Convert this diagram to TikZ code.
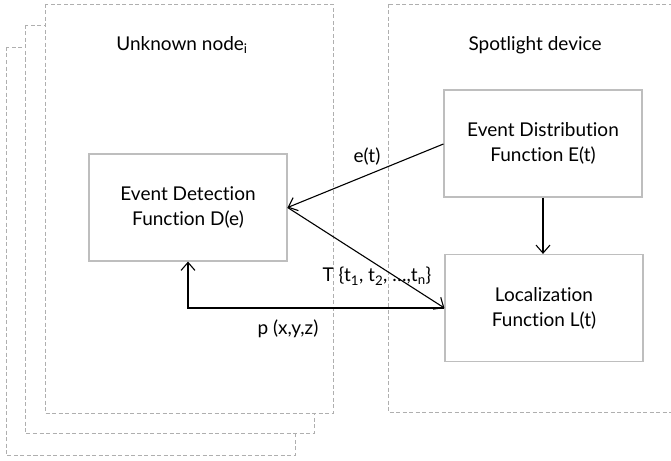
\documentclass[tikz,border=0pt]{standalone}
\usepackage{fontspec}
\setmainfont{Lato}[Ligatures={NoCommon}]
\usetikzlibrary{arrows.meta}
\definecolor{boxgray}{RGB}{190,190,190}
\definecolor{framegray}{RGB}{175,175,175}
\tikzset{
  frame/.style={draw=framegray, dashed, dash pattern=on 4pt off 2.5pt, line width=0.9pt, fill=white},
  func/.style={draw=boxgray, line width=1.2pt, fill=white, minimum width=198pt, minimum height=107pt, align=center, font=\fontsize{19}{25}\selectfont, inner sep=0pt},
  conn/.style={line width=1.1pt, -{Straight Barb[length=8pt,width=14pt,line width=1.1pt]}},
  lbl/.style={font=\fontsize{19}{22}\selectfont, inner sep=0pt},
}
\begin{document}
\begin{tikzpicture}[x=1pt,y=-1pt]
\useasboundingbox (0,0) rectangle (671,460);
% stacked frames
\draw[frame] (6,47) rectangle (295,455);
\draw[frame] (25,25) rectangle (314,433);
\draw[frame] (45,4) rectangle (333,413);
\draw[frame] (388,4) rectangle (671.5,412);
\node[lbl] (ttlU) at (182,45) {Unknown node\textsubscript{i}};
\node[lbl] (ttlS) at (535,45) {Spotlight device};
% function boxes
\node[func] (D) at (188,207.5) {Event Detection\\Function D(e)};
\node[func] (E) at (543,143.5) {Event Distribution\\Function E(t)};
\node[func] (L) at (544,308) {Localization\\Function L(t)};
% connectors
\coordinate (Ein) at (E.west |- 0,144);
\coordinate (Lin) at (L.west);
\draw[conn] (Ein) -- (D.east);
\node[lbl] (et) at (367,157) {e(t)};
\draw[conn] (D.east) -- (Lin);
\node[lbl] (T) at (377,276) {T \textbraceleft t\textsubscript{1}, t\textsubscript{2}, \dots,t\textsubscript{n}\textbraceright};
\draw[conn] (Lin) -| (D.south);
\node[lbl] (p) at (288,329) {p (x,y,z)};
\draw[conn] (E.south) -- (E.south |- L.north);
\end{tikzpicture}
\end{document}
